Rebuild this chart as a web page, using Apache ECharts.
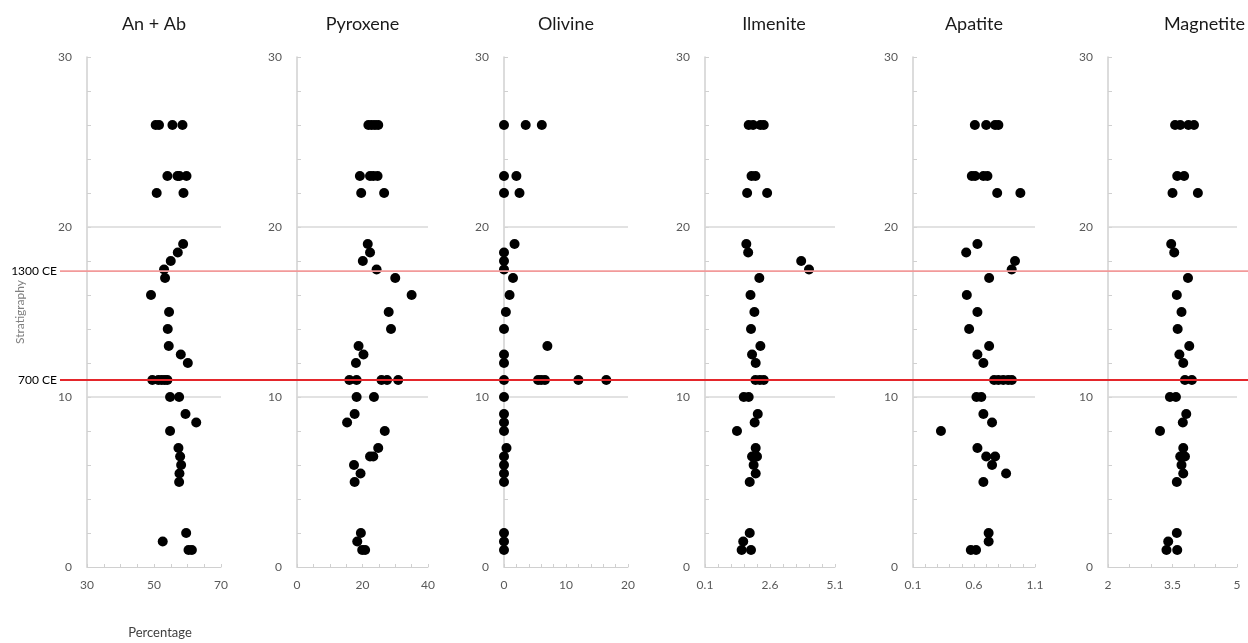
<!DOCTYPE html>
<html>
<head>
<meta charset="utf-8">
<script src="https://cdn.jsdelivr.net/npm/echarts@6/dist/echarts.min.js"></script>
<style>
  html, body { margin: 0; padding: 0; background: #fff; }
  #chart { width: 1248px; height: 643px; }
</style>
</head>
<body>
<div id="chart"></div>
<script>
// Mineral modal abundance (percentage) against stratigraphic level, pairs of [value, level]
const anAb = [
  [50.5, 26], [51.5, 26], [55.5, 26], [58.5, 26],
  [54, 23], [57, 23], [57.6, 23], [59.7, 23],
  [50.8, 22], [58.8, 22],
  [58.7, 19], [57.1, 18.5], [55.0, 18], [53.0, 17.5], [53.3, 17],
  [49.1, 16], [54.5, 15], [54.1, 14], [54.4, 13], [58.0, 12.5], [60.1, 12],
  [49.5, 11], [51.3, 11], [52.3, 11], [53.2, 11], [54.0, 11],
  [54.8, 10], [57.5, 10],
  [59.4, 9], [62.6, 8.5], [54.8, 8], [57.3, 7], [57.8, 6.5], [58.1, 6], [57.6, 5.5], [57.5, 5],
  [59.6, 2], [52.6, 1.5], [60.3, 1], [61.3, 1]
];
const pyroxene = [
  [21.8, 26], [22.8, 26], [23.8, 26], [24.8, 26],
  [19.2, 23], [22.3, 23], [23.3, 23], [24.6, 23],
  [19.6, 22], [26.6, 22],
  [21.6, 19], [22.3, 18.5], [20.1, 18], [24.3, 17.5], [30.0, 17],
  [35.0, 16], [28.0, 15], [28.7, 14], [18.8, 13], [20.3, 12.5], [18.0, 12],
  [16.0, 11], [18.2, 11], [25.8, 11], [27.5, 11], [30.9, 11],
  [18.2, 10], [23.5, 10],
  [17.6, 9], [15.3, 8.5], [26.8, 8], [24.8, 7], [22.3, 6.5], [23.3, 6.5], [17.4, 6], [19.4, 5.5], [17.6, 5],
  [19.5, 2], [18.4, 1.5], [19.9, 1], [20.8, 1]
];
const olivine = [
  [0, 26], [3.5, 26], [6.1, 26],
  [0, 23], [2.0, 23],
  [0, 22], [2.5, 22],
  [1.7, 19], [0, 18.5], [0, 18], [0, 17.5], [1.45, 17],
  [0.9, 16], [0.3, 15], [0, 14], [7.0, 13], [0, 12.5], [0, 12],
  [0, 11], [5.5, 11], [6.0, 11], [6.6, 11], [12.0, 11], [16.5, 11],
  [0, 10], [0, 9], [0, 8.5], [0, 8], [0.4, 7], [0, 6.5], [0, 6], [0, 5.5], [0, 5],
  [0, 2], [0, 1.5], [0, 1]
];
const ilmenite = [
  [1.78, 26], [1.95, 26], [2.23, 26], [2.36, 26],
  [1.89, 23], [2.04, 23],
  [1.72, 22], [2.49, 22],
  [1.69, 19], [1.76, 18.5], [3.80, 18], [4.10, 17.5], [2.19, 17],
  [1.85, 16], [2.0, 15], [1.87, 14], [2.23, 13], [1.91, 12.5], [2.05, 12],
  [2.04, 11], [2.21, 11], [2.36, 11],
  [1.59, 10], [1.78, 10],
  [2.13, 9], [2.01, 8.5], [1.33, 8], [2.05, 7], [1.91, 6.5], [2.1, 6.5], [1.97, 6], [2.05, 5.5], [1.82, 5],
  [1.82, 2], [1.57, 1.5], [1.51, 1], [1.87, 1]
];
const apatite = [
  [0.607, 26], [0.70, 26], [0.773, 26], [0.80, 26],
  [0.582, 23], [0.609, 23], [0.677, 23], [0.71, 23],
  [0.79, 22], [0.98, 22],
  [0.628, 19], [0.536, 18.5], [0.936, 18], [0.909, 17.5], [0.724, 17],
  [0.541, 16], [0.628, 15], [0.56, 14], [0.724, 13], [0.628, 12.5], [0.677, 12],
  [0.765, 11], [0.80, 11], [0.84, 11], [0.88, 11], [0.91, 11],
  [0.62, 10], [0.66, 10],
  [0.677, 9], [0.748, 8.5], [0.329, 8], [0.628, 7], [0.70, 6.5], [0.773, 6.5], [0.748, 6], [0.863, 5.5], [0.677, 5],
  [0.72, 2], [0.72, 1.5], [0.574, 1], [0.617, 1]
];
const magnetite = [
  [3.56, 26], [3.68, 26], [3.87, 26], [4.0, 26],
  [3.61, 23], [3.77, 23],
  [3.50, 22], [4.09, 22],
  [3.47, 19], [3.54, 18.5], [3.86, 17],
  [3.60, 16], [3.71, 15], [3.62, 14], [3.89, 13], [3.66, 12.5], [3.75, 12],
  [3.79, 11], [3.95, 11],
  [3.44, 10], [3.58, 10],
  [3.82, 9], [3.74, 8.5], [3.21, 8], [3.75, 7], [3.68, 6.5], [3.79, 6.5], [3.71, 6], [3.75, 5.5], [3.60, 5],
  [3.60, 2], [3.40, 1.5], [3.36, 1], [3.61, 1]
];

// Panel titles
const titles = ['An + Ab', 'Pyroxene', 'Olivine', 'Ilmenite', 'Apatite', 'Magnetite'];

// x-axis extents, minor tick values and labelled values per panel
const xMin = [30, 0, 0, 0.1, 0.1, 2];
const xMax = [70, 40, 20, 5.1, 1.1, 5];
const xTicks = [
  [30, 35, 40, 45, 50, 55, 60, 65, 70],
  [0, 5, 10, 15, 20, 25, 30, 35, 40],
  [0, 2, 4, 6, 8, 10, 12, 14, 16, 18, 20],
  [0.1, 0.6, 1.1, 1.6, 2.1, 2.6, 3.1, 3.6, 4.1, 4.6, 5.1],
  [0.1, 0.2, 0.3, 0.4, 0.5, 0.6, 0.7, 0.8, 0.9, 1.0, 1.1],
  [2, 2.5, 3, 3.5, 4, 4.5, 5]
];
const xLabels = [
  [30, 50, 70],
  [0, 20, 40],
  [0, 10, 20],
  [0.1, 2.6, 5.1],
  [0.1, 0.6, 1.1],
  [2, 3.5, 5]
];

// Stratigraphy axis
const yTicks = [0, 2, 4, 6, 8, 10, 12, 14, 16, 18, 20, 22, 24, 26, 28, 30];
const yLabels = [0, 10, 20, 30];
const gridLevels = [10, 20];

// Historical horizons
const horizons = [
  { label: '1300 CE', level: 17.4, color: '#f29a9a' },
  { label: '700 CE', level: 11, color: '#e4262b' }
];

const panelData = [anAb, pyroxene, olivine, ilmenite, apatite, magnetite];

// Plot-area placement of the six panels
const panelLeft = [87, 297, 504, 705, 913, 1108];
const panelWidth = [134, 131, 124, 130, 122, 129];
const titleShift = [0, 0, 0, 4, 0, 32];
const plotTop = 57;
const plotHeight = 510;

const FONT = 'Lato, "Open Sans", sans-serif';
const AXIS_COLOR = '#d0d0d0';

const chart = echarts.init(document.getElementById('chart'), null, { renderer: 'canvas' });

const grids = [], xAxes = [], yAxes = [], series = [];
panelData.forEach((data, i) => {
  grids.push({ left: panelLeft[i], top: plotTop, width: panelWidth[i], height: plotHeight, containLabel: false });
  xAxes.push({
    type: 'value', gridIndex: i, min: xMin[i], max: xMax[i],
    axisLine: { show: true, onZero: false, lineStyle: { color: AXIS_COLOR, width: 1 } },
    axisTick: { show: true, inside: true, length: 3, customValues: xTicks[i], lineStyle: { color: AXIS_COLOR } },
    axisLabel: {
      customValues: xLabels[i], color: '#595959', fontSize: 12, fontFamily: FONT, margin: 12,
      formatter: v => String(v)
    },
    splitLine: { show: false }
  });
  yAxes.push({
    type: 'value', gridIndex: i, min: 0, max: 30,
    axisLine: { show: true, onZero: false, lineStyle: { color: AXIS_COLOR, width: 1.5 } },
    axisTick: { show: true, inside: true, length: 4, customValues: yTicks, lineStyle: { color: AXIS_COLOR } },
    axisLabel: { customValues: yLabels, color: '#595959', fontSize: 12, fontFamily: FONT, margin: 15 },
    splitLine: { show: false }
  });
  series.push({
    type: 'scatter', xAxisIndex: i, yAxisIndex: i, data: data,
    symbol: 'circle', symbolSize: 10,
    itemStyle: { color: '#000', opacity: 1 },
    z: 5,
    markLine: {
      silent: true, symbol: 'none', label: { show: false },
      lineStyle: { color: '#d9d9d9', width: 1.5, type: 'solid' },
      data: gridLevels.map(v => ({ yAxis: v })),
      z: 1
    }
  });
});

chart.setOption({
  animation: false,
  backgroundColor: '#fff',
  grid: grids,
  xAxis: xAxes,
  yAxis: yAxes,
  series: series
});

// Titles, axis captions and horizon lines placed through the axis scales
const graphics = [];
titles.forEach((t, i) => {
  const cx = (chart.convertToPixel({ xAxisIndex: i }, xMin[i]) + chart.convertToPixel({ xAxisIndex: i }, xMax[i])) / 2;
  graphics.push({
    type: 'text', x: cx + titleShift[i], y: 24,
    style: { text: t, fill: '#1a1a1a', font: '18px ' + FONT, textAlign: 'center', textVerticalAlign: 'middle' }
  });
});
graphics.push({
  type: 'text', x: 20, y: 312, rotation: Math.PI / 2,
  style: { text: 'Stratigraphy', fill: '#7f7f7f', font: '12px ' + FONT, textAlign: 'center', textVerticalAlign: 'middle' }
});
graphics.push({
  type: 'text', x: 160, y: 633,
  style: { text: 'Percentage', fill: '#404040', font: '13px ' + FONT, textAlign: 'center', textVerticalAlign: 'middle' }
});
horizons.forEach(h => {
  const y = chart.convertToPixel({ yAxisIndex: 0 }, h.level);
  graphics.push({
    type: 'line', z: 10,
    shape: { x1: 60, y1: y, x2: 1248, y2: y },
    style: { stroke: h.color, lineWidth: 1.8 }
  });
  graphics.push({
    type: 'text', x: 57, y: y, z: 11,
    style: { text: h.label, fill: '#000', font: '12px ' + FONT, textAlign: 'right', textVerticalAlign: 'middle' }
  });
});
chart.setOption({ graphic: graphics });
</script>
</body>
</html>
